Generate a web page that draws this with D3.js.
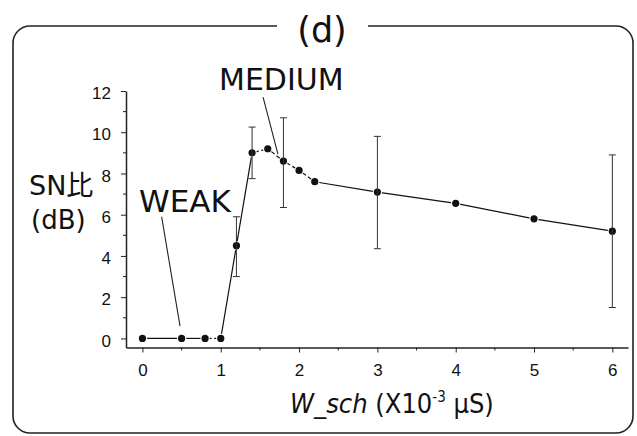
<!DOCTYPE html>
<html>
<head>
<meta charset="utf-8">
<script src="https://cdn.jsdelivr.net/npm/d3@7"></script>
<style>
  body { margin: 0; background: #fff; }
  svg { display: block; }
  .tick text { font-family: "Liberation Sans", Arial, sans-serif; font-size: 17px; fill: #111; }
  .lbl { font-family: "DejaVu Sans", sans-serif; fill: #111; }
</style>
</head>
<body>
<svg width="637" height="436"></svg>
<script>
// data
const xVals = [0, 0.5, 0.8, 1.0, 1.2, 1.4, 1.6, 1.8, 2.0, 2.2, 3, 4, 5, 6];
const snVals = [0, 0, 0, 0, 4.5, 9.0, 9.2, 8.6, 8.15, 7.6, 7.1, 6.55, 5.8, 5.2];
// error bars (x, low, high)
const errX = [1.2, 1.4, 1.8, 3, 6];
const errLow = [3.0, 7.75, 6.35, 4.35, 1.5];
const errHigh = [5.9, 10.25, 10.7, 9.8, 8.9];
const yTicks = [0, 2, 4, 6, 8, 10, 12];
const xTicks = [0, 1, 2, 3, 4, 5, 6];

var svg = d3.select("svg");

var x = d3.scaleLinear().domain([-0.21, 6.2]).range([126, 628]);
var y = d3.scaleLinear().domain([-0.44, 12]).range([347.5, 91]);

// frame with the title breaking the top line
svg.append("rect")
    .attr("x", 13).attr("y", 26)
    .attr("width", 620).attr("height", 407)
    .attr("rx", 17)
    .attr("fill", "none")
    .attr("stroke", "#222")
    .attr("stroke-width", 1.6);
svg.append("rect")
    .attr("x", 277).attr("y", 20)
    .attr("width", 91).attr("height", 12)
    .attr("fill", "#fff");
svg.append("text")
    .attr("class", "lbl")
    .attr("x", 322).attr("y", 42)
    .attr("text-anchor", "middle")
    .style("font-size", "35px")
    .text("(d)");

// axes
var yAxis = d3.axisLeft(y).tickValues(yTicks).tickFormat(d3.format("d"))
    .tickSize(5).tickSizeOuter(0).tickPadding(10);
var gy = svg.append("g").attr("transform", "translate(126,0)").call(yAxis);
gy.selectAll(".tick text").attr("dy", "0.45em");
gy.selectAll(".minor")
    .data(d3.range(1, 12, 2))
    .enter().append("line")
    .attr("x1", -3).attr("x2", 0)
    .attr("y1", d => y(d)).attr("y2", d => y(d))
    .attr("stroke", "#222");

var xAxis = d3.axisBottom(x).tickValues(xTicks).tickFormat(d3.format("d"))
    .tickSize(5).tickSizeOuter(0).tickPadding(11);
var gx = svg.append("g").attr("transform", "translate(0,347.5)").call(xAxis);
gx.selectAll(".minor")
    .data(d3.range(0.5, 6, 1))
    .enter().append("line")
    .attr("x1", d => x(d)).attr("x2", d => x(d))
    .attr("y1", 0).attr("y2", 3)
    .attr("stroke", "#222");

svg.selectAll(".domain").attr("stroke", "#222").attr("stroke-width", 1.5);
svg.selectAll(".tick line").attr("stroke", "#222");

// data line, short segments come out broken like the original
var pts = xVals.map((v, i) => [x(v), y(snVals[i])]);
d3.pairs(pts).forEach(([a, b]) => {
    var len = Math.hypot(b[0] - a[0], b[1] - a[1]);
    var seg = svg.append("line")
        .attr("x1", a[0]).attr("y1", a[1])
        .attr("x2", b[0]).attr("y2", b[1])
        .attr("stroke", "#111")
        .attr("stroke-width", 1.2);
    if (len < 22) seg.attr("stroke-dasharray", `${(len - 2.5) / 2} 2.5`);
});

svg.selectAll(".dot")
    .data(pts)
    .enter().append("circle")
    .attr("class", "dot")
    .attr("cx", d => d[0]).attr("cy", d => d[1])
    .attr("r", 3.6)
    .attr("fill", "#111")
    .attr("stroke", "#fff")
    .attr("stroke-width", 2.2)
    .attr("paint-order", "stroke");

// error bars
var eb = svg.selectAll(".err").data(errX).enter().append("g").attr("class", "err");
eb.append("line")
    .attr("x1", d => x(d)).attr("x2", d => x(d))
    .attr("y1", (d, i) => y(errLow[i])).attr("y2", (d, i) => y(errHigh[i]));
eb.append("line")
    .attr("x1", d => x(d) - 3.5).attr("x2", d => x(d) + 3.5)
    .attr("y1", (d, i) => y(errLow[i])).attr("y2", (d, i) => y(errLow[i]));
eb.append("line")
    .attr("x1", d => x(d) - 3.5).attr("x2", d => x(d) + 3.5)
    .attr("y1", (d, i) => y(errHigh[i])).attr("y2", (d, i) => y(errHigh[i]));
eb.selectAll("line").attr("stroke", "#333").attr("stroke-width", 1);

// annotations
svg.append("text").attr("class", "lbl")
    .attr("x", 219).attr("y", 90)
    .style("font-size", "30px")
    .text("MEDIUM");
svg.append("line")
    .attr("x1", x(1.54)).attr("y1", y(11.7))
    .attr("x2", x(1.73)).attr("y2", y(8.94))
    .attr("stroke", "#222").attr("stroke-width", 1.1);

svg.append("text").attr("class", "lbl")
    .attr("x", 139).attr("y", 212)
    .style("font-size", "31px")
    .text("WEAK");
svg.append("line")
    .attr("x1", x(0.245)).attr("y1", y(5.9))
    .attr("x2", x(0.48)).attr("y2", y(0.6))
    .attr("stroke", "#222").attr("stroke-width", 1.1);

// axis titles
svg.append("text").attr("class", "lbl")
    .attr("x", 29).attr("y", 195)
    .style("font-size", "27px")
    .html('SN<tspan style="font-family:\'Noto Sans CJK JP\'">比</tspan>');
svg.append("text").attr("class", "lbl")
    .attr("x", 31).attr("y", 229)
    .style("font-size", "26px")
    .text("(dB)");

var xl = svg.append("text").attr("class", "lbl")
    .attr("x", 290).attr("y", 413)
    .style("font-family", "'DejaVu Sans Condensed', 'DejaVu Sans', sans-serif")
    .style("font-size", "27px");
xl.append("tspan").style("font-style", "italic").text("W_sch");
xl.append("tspan").text(" (X10");
xl.append("tspan").attr("dy", -11).style("font-size", "15px").text("-3");
xl.append("tspan").attr("dy", 11).text(" \u00b5S)");
</script>
</body>
</html>
